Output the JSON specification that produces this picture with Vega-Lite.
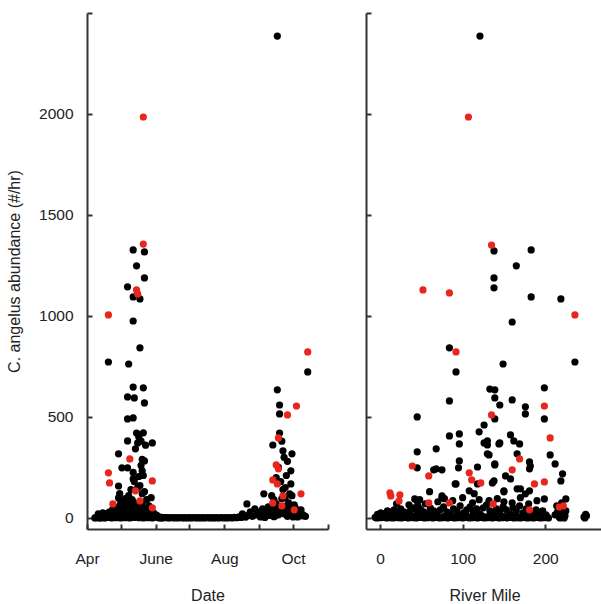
{
"$schema": "https://vega.github.io/schema/vega-lite/v6.json",
"background": "white",
"padding": {"left": 6, "top": 12, "right": 0, "bottom": 0},
"spacing": 36,
"config": {
  "view": {"stroke": null},
  "axis": {"grid": false, "domainColor": "#333", "domainWidth": 2, "tickColor": "#333", "tickWidth": 2, "tickSize": -5,
    "labelFont": "Liberation Sans", "labelFontSize": 15.5, "labelColor": "#222",
    "titleFont": "Liberation Sans", "titleFontSize": 16, "titleFontWeight": "normal", "titleColor": "#222"},
  "circle": {"size": 52, "opacity": 1, "strokeWidth": 0}
},
"datasets": {
"left": [
{"d":"2010/04/08","v":0,"c":"b"},{"d":"2010/04/10","v":2,"c":"b"},{"d":"2010/04/12","v":0,"c":"b"},{"d":"2010/04/14","v":3,"c":"b"},{"d":"2010/04/16","v":1,"c":"b"},{"d":"2010/04/18","v":5,"c":"b"},{"d":"2010/04/20","v":2,"c":"b"},{"d":"2010/04/22","v":8,"c":"b"},{"d":"2010/04/24","v":3,"c":"b"},{"d":"2010/04/26","v":10,"c":"b"},{"d":"2010/04/28","v":4,"c":"b"},{"d":"2010/04/30","v":12,"c":"b"},{"d":"2010/05/02","v":5,"c":"b"},{"d":"2010/05/04","v":15,"c":"b"},{"d":"2010/05/06","v":6,"c":"b"},{"d":"2010/05/08","v":18,"c":"b"},{"d":"2010/05/10","v":8,"c":"b"},{"d":"2010/05/12","v":20,"c":"b"},{"d":"2010/05/14","v":10,"c":"b"},{"d":"2010/05/16","v":22,"c":"b"},{"d":"2010/05/18","v":12,"c":"b"},{"d":"2010/05/20","v":15,"c":"b"},{"d":"2010/05/22","v":6,"c":"b"},{"d":"2010/05/24","v":10,"c":"b"},{"d":"2010/05/26","v":4,"c":"b"},{"d":"2010/05/28","v":8,"c":"b"},{"d":"2010/05/30","v":3,"c":"b"},{"d":"2010/06/01","v":5,"c":"b"},{"d":"2010/06/03","v":2,"c":"b"},{"d":"2010/06/05","v":4,"c":"b"},{"d":"2010/06/07","v":1,"c":"b"},{"d":"2010/06/09","v":2,"c":"b"},
{"d":"2010/04/11","v":20,"c":"b"},{"d":"2010/04/15","v":25,"c":"b"},{"d":"2010/04/19","v":22,"c":"b"},{"d":"2010/04/21","v":30,"c":"b"},{"d":"2010/04/25","v":28,"c":"b"},{"d":"2010/04/27","v":35,"c":"b"},{"d":"2010/04/29","v":25,"c":"b"},{"d":"2010/05/01","v":40,"c":"b"},{"d":"2010/05/03","v":30,"c":"b"},{"d":"2010/05/05","v":45,"c":"b"},{"d":"2010/05/07","v":35,"c":"b"},{"d":"2010/05/09","v":48,"c":"b"},{"d":"2010/05/11","v":40,"c":"b"},{"d":"2010/05/13","v":42,"c":"b"},{"d":"2010/05/15","v":38,"c":"b"},{"d":"2010/05/17","v":45,"c":"b"},{"d":"2010/05/19","v":50,"c":"b"},{"d":"2010/05/21","v":35,"c":"b"},{"d":"2010/05/23","v":30,"c":"b"},{"d":"2010/05/25","v":25,"c":"b"},{"d":"2010/05/27","v":20,"c":"b"},{"d":"2010/05/29","v":18,"c":"b"},{"d":"2010/05/31","v":15,"c":"b"},{"d":"2010/06/02","v":12,"c":"b"},
{"d":"2010/04/09","v":1,"c":"b"},{"d":"2010/04/13","v":0,"c":"b"},{"d":"2010/04/17","v":0,"c":"b"},{"d":"2010/04/23","v":0,"c":"b"},{"d":"2010/04/27","v":1,"c":"b"},{"d":"2010/05/01","v":0,"c":"b"},{"d":"2010/05/05","v":1,"c":"b"},{"d":"2010/05/09","v":0,"c":"b"},{"d":"2010/05/13","v":2,"c":"b"},{"d":"2010/05/17","v":1,"c":"b"},{"d":"2010/05/21","v":0,"c":"b"},{"d":"2010/05/25","v":1,"c":"b"},{"d":"2010/05/29","v":0,"c":"b"},{"d":"2010/06/04","v":0,"c":"b"},{"d":"2010/06/06","v":0,"c":"b"},{"d":"2010/06/08","v":1,"c":"b"},
{"d":"2010/04/24","v":45,"c":"b"},{"d":"2010/04/30","v":60,"c":"b"},{"d":"2010/05/02","v":75,"c":"b"},{"d":"2010/05/04","v":30,"c":"b"},{"d":"2010/05/06","v":85,"c":"b"},{"d":"2010/05/08","v":65,"c":"b"},{"d":"2010/05/10","v":55,"c":"b"},{"d":"2010/05/12","v":80,"c":"b"},{"d":"2010/05/14","v":25,"c":"b"},{"d":"2010/05/16","v":65,"c":"b"},{"d":"2010/05/18","v":30,"c":"b"},{"d":"2010/05/20","v":70,"c":"b"},{"d":"2010/05/22","v":45,"c":"b"},{"d":"2010/05/24","v":30,"c":"b"},{"d":"2010/05/26","v":20,"c":"b"},{"d":"2010/05/30","v":25,"c":"b"},{"d":"2010/06/01","v":15,"c":"b"},
{"d":"2010/06/11","v":1,"c":"b"},{"d":"2010/06/13","v":0,"c":"b"},{"d":"2010/06/15","v":2,"c":"b"},{"d":"2010/06/17","v":0,"c":"b"},{"d":"2010/06/19","v":1,"c":"b"},{"d":"2010/06/21","v":0,"c":"b"},{"d":"2010/06/23","v":2,"c":"b"},{"d":"2010/06/25","v":0,"c":"b"},{"d":"2010/06/27","v":1,"c":"b"},{"d":"2010/06/29","v":0,"c":"b"},{"d":"2010/07/01","v":1,"c":"b"},{"d":"2010/07/03","v":0,"c":"b"},{"d":"2010/07/05","v":2,"c":"b"},{"d":"2010/07/07","v":0,"c":"b"},{"d":"2010/07/09","v":1,"c":"b"},{"d":"2010/07/11","v":0,"c":"b"},{"d":"2010/07/13","v":1,"c":"b"},{"d":"2010/07/15","v":0,"c":"b"},{"d":"2010/07/17","v":2,"c":"b"},{"d":"2010/07/19","v":0,"c":"b"},{"d":"2010/07/21","v":1,"c":"b"},{"d":"2010/07/23","v":0,"c":"b"},{"d":"2010/07/25","v":1,"c":"b"},{"d":"2010/07/27","v":0,"c":"b"},{"d":"2010/07/29","v":2,"c":"b"},{"d":"2010/07/31","v":0,"c":"b"},{"d":"2010/08/02","v":1,"c":"b"},{"d":"2010/08/04","v":0,"c":"b"},{"d":"2010/08/06","v":2,"c":"b"},{"d":"2010/08/08","v":0,"c":"b"},{"d":"2010/08/10","v":3,"c":"b"},{"d":"2010/08/12","v":1,"c":"b"},{"d":"2010/08/14","v":5,"c":"b"},{"d":"2010/08/16","v":2,"c":"b"},{"d":"2010/08/18","v":8,"c":"b"},{"d":"2010/08/20","v":4,"c":"b"},
{"d":"2010/05/12","v":1327,"c":"b"},{"d":"2010/05/22","v":1317,"c":"b"},{"d":"2010/05/15","v":1248,"c":"b"},{"d":"2010/05/22","v":1188,"c":"b"},{"d":"2010/05/07","v":1144,"c":"b"},{"d":"2010/05/12","v":1094,"c":"b"},{"d":"2010/05/18","v":1084,"c":"b"},{"d":"2010/05/12","v":975,"c":"b"},{"d":"2010/05/18","v":842,"c":"b"},{"d":"2010/04/20","v":772,"c":"b"},{"d":"2010/05/08","v":762,"c":"b"},
{"d":"2010/05/12","v":648,"c":"b"},{"d":"2010/05/21","v":644,"c":"b"},{"d":"2010/05/07","v":599,"c":"b"},{"d":"2010/05/13","v":594,"c":"b"},{"d":"2010/05/22","v":569,"c":"b"},{"d":"2010/05/07","v":490,"c":"b"},{"d":"2010/05/12","v":495,"c":"b"},{"d":"2010/05/21","v":421,"c":"b"},{"d":"2010/05/07","v":381,"c":"b"},{"d":"2010/05/16","v":371,"c":"b"},{"d":"2010/05/29","v":371,"c":"b"},{"d":"2010/05/14","v":342,"c":"b"},{"d":"2010/04/29","v":317,"c":"b"},{"d":"2010/05/22","v":282,"c":"b"},{"d":"2010/05/02","v":248,"c":"b"},{"d":"2010/05/07","v":248,"c":"b"},{"d":"2010/05/20","v":233,"c":"b"},{"d":"2010/04/29","v":158,"c":"b"},{"d":"2010/05/12","v":193,"c":"b"},{"d":"2010/04/29","v":99,"c":"b"},{"d":"2010/05/07","v":69,"c":"b"},
{"d":"2010/05/15","v":420,"c":"b"},{"d":"2010/05/17","v":400,"c":"b"},{"d":"2010/05/19","v":380,"c":"b"},{"d":"2010/05/23","v":360,"c":"b"},{"d":"2010/05/20","v":290,"c":"b"},{"d":"2010/05/19","v":260,"c":"b"},{"d":"2010/05/21","v":210,"c":"b"},{"d":"2010/05/17","v":205,"c":"b"},{"d":"2010/05/13","v":180,"c":"b"},{"d":"2010/05/10","v":140,"c":"b"},{"d":"2010/05/16","v":150,"c":"b"},{"d":"2010/05/20","v":120,"c":"b"},{"d":"2010/05/08","v":110,"c":"b"},{"d":"2010/05/05","v":95,"c":"b"},{"d":"2010/05/01","v":80,"c":"b"},{"d":"2010/05/11","v":90,"c":"b"},{"d":"2010/05/14","v":70,"c":"b"},{"d":"2010/05/24","v":90,"c":"b"},{"d":"2010/05/26","v":60,"c":"b"},{"d":"2010/05/27","v":40,"c":"b"},{"d":"2010/04/26","v":50,"c":"b"},{"d":"2010/04/28","v":35,"c":"b"},{"d":"2010/05/03","v":40,"c":"b"},{"d":"2010/05/06","v":55,"c":"b"},{"d":"2010/05/09","v":30,"c":"b"},{"d":"2010/04/23","v":30,"c":"b"},{"d":"2010/05/12","v":225,"c":"b"},{"d":"2010/05/18","v":160,"c":"b"},{"d":"2010/05/22","v":130,"c":"b"},{"d":"2010/05/04","v":60,"c":"b"},{"d":"2010/04/30","v":120,"c":"b"},{"d":"2010/05/28","v":100,"c":"b"},
{"d":"2010/08/21","v":69,"c":"b"},{"d":"2010/08/28","v":45,"c":"b"},{"d":"2010/08/17","v":20,"c":"b"},{"d":"2010/08/24","v":30,"c":"b"},{"d":"2010/08/22","v":12,"c":"b"},{"d":"2010/08/26","v":8,"c":"b"},{"d":"2010/08/30","v":15,"c":"b"},{"d":"2010/09/01","v":20,"c":"b"},{"d":"2010/09/05","v":119,"c":"b"},{"d":"2010/09/03","v":35,"c":"b"},{"d":"2010/09/02","v":5,"c":"b"},{"d":"2010/09/04","v":10,"c":"b"},{"d":"2010/09/06","v":2,"c":"b"},{"d":"2010/09/08","v":25,"c":"b"},{"d":"2010/09/09","v":55,"c":"b"},{"d":"2010/09/10","v":12,"c":"b"},{"d":"2010/09/12","v":40,"c":"b"},{"d":"2010/09/13","v":361,"c":"b"},{"d":"2010/09/14","v":6,"c":"b"},{"d":"2010/09/15","v":30,"c":"b"},{"d":"2010/09/16","v":70,"c":"b"},{"d":"2010/09/17","v":634,"c":"b"},{"d":"2010/09/17","v":2386,"c":"b"},{"d":"2010/09/18","v":15,"c":"b"},{"d":"2010/09/19","v":559,"c":"b"},{"d":"2010/09/19","v":515,"c":"b"},{"d":"2010/09/20","v":45,"c":"b"},{"d":"2010/09/21","v":95,"c":"b"},{"d":"2010/09/22","v":332,"c":"b"},{"d":"2010/09/23","v":20,"c":"b"},{"d":"2010/09/24","v":150,"c":"b"},{"d":"2010/09/25","v":60,"c":"b"},{"d":"2010/09/26","v":8,"c":"b"},{"d":"2010/09/27","v":35,"c":"b"},{"d":"2010/09/28","v":119,"c":"b"},{"d":"2010/09/29","v":233,"c":"b"},{"d":"2010/09/29","v":168,"c":"b"},{"d":"2010/09/30","v":317,"c":"b"},{"d":"2010/10/01","v":25,"c":"b"},{"d":"2010/10/02","v":10,"c":"b"},{"d":"2010/10/03","v":50,"c":"b"},{"d":"2010/10/04","v":20,"c":"b"},{"d":"2010/10/05","v":5,"c":"b"},{"d":"2010/10/06","v":30,"c":"b"},{"d":"2010/10/07","v":12,"c":"b"},{"d":"2010/10/08","v":40,"c":"b"},{"d":"2010/10/10","v":15,"c":"b"},{"d":"2010/10/12","v":8,"c":"b"},{"d":"2010/10/14","v":723,"c":"b"},
{"d":"2010/09/16","v":200,"c":"b"},{"d":"2010/09/18","v":250,"c":"b"},{"d":"2010/09/20","v":180,"c":"b"},{"d":"2010/09/22","v":140,"c":"b"},{"d":"2010/09/24","v":100,"c":"b"},{"d":"2010/09/26","v":280,"c":"b"},{"d":"2010/09/14","v":90,"c":"b"},{"d":"2010/09/12","v":110,"c":"b"},{"d":"2010/09/19","v":420,"c":"b"},{"d":"2010/09/21","v":380,"c":"b"},{"d":"2010/09/27","v":75,"c":"b"},{"d":"2010/09/30","v":110,"c":"b"},{"d":"2010/10/02","v":65,"c":"b"},{"d":"2010/09/25","v":210,"c":"b"},{"d":"2010/09/23","v":300,"c":"b"},
{"d":"2010/09/02","v":30,"c":"b"},{"d":"2010/09/04","v":45,"c":"b"},{"d":"2010/09/07","v":40,"c":"b"},{"d":"2010/09/11","v":25,"c":"b"},{"d":"2010/09/13","v":50,"c":"b"},{"d":"2010/09/15","v":10,"c":"b"},{"d":"2010/09/17","v":40,"c":"b"},{"d":"2010/09/19","v":25,"c":"b"},{"d":"2010/09/21","v":55,"c":"b"},{"d":"2010/09/23","v":40,"c":"b"},{"d":"2010/09/25","v":30,"c":"b"},{"d":"2010/09/27","v":15,"c":"b"},{"d":"2010/09/29","v":45,"c":"b"},{"d":"2010/10/01","v":5,"c":"b"},{"d":"2010/10/03","v":22,"c":"b"},{"d":"2010/10/05","v":35,"c":"b"},{"d":"2010/10/07","v":28,"c":"b"},{"d":"2010/10/09","v":10,"c":"b"},
{"d":"2010/05/21","v":1985,"c":"r"},{"d":"2010/05/21","v":1356,"c":"r"},{"d":"2010/05/15","v":1129,"c":"r"},{"d":"2010/05/16","v":1109,"c":"r"},{"d":"2010/04/20","v":1005,"c":"r"},{"d":"2010/05/09","v":292,"c":"r"},{"d":"2010/04/20","v":223,"c":"r"},{"d":"2010/04/21","v":173,"c":"r"},{"d":"2010/05/29","v":183,"c":"r"},{"d":"2010/05/14","v":134,"c":"r"},{"d":"2010/04/24","v":69,"c":"r"},{"d":"2010/05/18","v":84,"c":"r"},{"d":"2010/05/29","v":50,"c":"r"},
{"d":"2010/10/14","v":822,"c":"r"},{"d":"2010/10/04","v":554,"c":"r"},{"d":"2010/09/26","v":510,"c":"r"},{"d":"2010/09/18","v":396,"c":"r"},{"d":"2010/09/16","v":262,"c":"r"},{"d":"2010/09/18","v":243,"c":"r"},{"d":"2010/09/13","v":188,"c":"r"},{"d":"2010/09/17","v":168,"c":"r"},{"d":"2010/10/08","v":119,"c":"r"},{"d":"2010/09/22","v":109,"c":"r"},{"d":"2010/09/13","v":74,"c":"r"},{"d":"2010/09/21","v":59,"c":"r"},{"d":"2010/10/02","v":40,"c":"r"}
],
"right": [
{"m":-6,"v":3,"c":"b"},{"m":-4,"v":0,"c":"b"},{"m":-2,"v":5,"c":"b"},{"m":0,"v":1,"c":"b"},{"m":2,"v":8,"c":"b"},{"m":4,"v":2,"c":"b"},{"m":6,"v":10,"c":"b"},{"m":8,"v":0,"c":"b"},{"m":10,"v":4,"c":"b"},{"m":12,"v":1,"c":"b"},{"m":14,"v":6,"c":"b"},{"m":16,"v":0,"c":"b"},{"m":18,"v":3,"c":"b"},{"m":20,"v":8,"c":"b"},{"m":22,"v":1,"c":"b"},{"m":24,"v":5,"c":"b"},{"m":26,"v":0,"c":"b"},{"m":28,"v":7,"c":"b"},{"m":30,"v":2,"c":"b"},{"m":32,"v":10,"c":"b"},{"m":34,"v":0,"c":"b"},{"m":36,"v":4,"c":"b"},{"m":38,"v":9,"c":"b"},{"m":40,"v":1,"c":"b"},{"m":42,"v":6,"c":"b"},{"m":44,"v":0,"c":"b"},{"m":46,"v":3,"c":"b"},{"m":48,"v":8,"c":"b"},{"m":50,"v":2,"c":"b"},{"m":52,"v":5,"c":"b"},{"m":54,"v":0,"c":"b"},{"m":56,"v":7,"c":"b"},{"m":58,"v":1,"c":"b"},{"m":60,"v":10,"c":"b"},{"m":62,"v":3,"c":"b"},{"m":64,"v":0,"c":"b"},{"m":66,"v":6,"c":"b"},{"m":68,"v":2,"c":"b"},{"m":70,"v":9,"c":"b"},{"m":72,"v":0,"c":"b"},{"m":74,"v":4,"c":"b"},{"m":76,"v":1,"c":"b"},{"m":78,"v":7,"c":"b"},{"m":80,"v":3,"c":"b"},{"m":82,"v":0,"c":"b"},{"m":84,"v":8,"c":"b"},{"m":86,"v":2,"c":"b"},{"m":88,"v":5,"c":"b"},{"m":90,"v":0,"c":"b"},{"m":92,"v":6,"c":"b"},{"m":94,"v":1,"c":"b"},{"m":96,"v":9,"c":"b"},{"m":98,"v":3,"c":"b"},{"m":100,"v":0,"c":"b"},{"m":102,"v":5,"c":"b"},{"m":104,"v":2,"c":"b"},{"m":106,"v":8,"c":"b"},{"m":108,"v":0,"c":"b"},{"m":110,"v":4,"c":"b"},{"m":112,"v":1,"c":"b"},{"m":114,"v":7,"c":"b"},{"m":116,"v":3,"c":"b"},{"m":118,"v":0,"c":"b"},{"m":120,"v":6,"c":"b"},{"m":122,"v":2,"c":"b"},{"m":124,"v":9,"c":"b"},{"m":126,"v":0,"c":"b"},{"m":128,"v":4,"c":"b"},{"m":130,"v":1,"c":"b"},{"m":132,"v":7,"c":"b"},{"m":134,"v":3,"c":"b"},{"m":136,"v":0,"c":"b"},{"m":138,"v":5,"c":"b"},{"m":140,"v":2,"c":"b"},{"m":142,"v":8,"c":"b"},{"m":144,"v":0,"c":"b"},{"m":146,"v":4,"c":"b"},{"m":148,"v":1,"c":"b"},{"m":150,"v":6,"c":"b"},{"m":152,"v":3,"c":"b"},{"m":154,"v":0,"c":"b"},{"m":156,"v":7,"c":"b"},{"m":158,"v":2,"c":"b"},{"m":160,"v":5,"c":"b"},{"m":162,"v":0,"c":"b"},{"m":164,"v":8,"c":"b"},{"m":166,"v":1,"c":"b"},{"m":168,"v":4,"c":"b"},{"m":170,"v":0,"c":"b"},{"m":172,"v":6,"c":"b"},{"m":174,"v":2,"c":"b"},{"m":176,"v":9,"c":"b"},{"m":178,"v":0,"c":"b"},{"m":180,"v":3,"c":"b"},{"m":182,"v":1,"c":"b"},{"m":184,"v":7,"c":"b"},{"m":186,"v":0,"c":"b"},{"m":188,"v":4,"c":"b"},{"m":190,"v":2,"c":"b"},{"m":192,"v":8,"c":"b"},{"m":194,"v":0,"c":"b"},{"m":196,"v":5,"c":"b"},{"m":198,"v":1,"c":"b"},{"m":200,"v":6,"c":"b"},{"m":202,"v":2,"c":"b"},{"m":204,"v":0,"c":"b"},
{"m":-3,"v":18,"c":"b"},{"m":1,"v":25,"c":"b"},{"m":5,"v":20,"c":"b"},{"m":9,"v":35,"c":"b"},{"m":13,"v":28,"c":"b"},{"m":17,"v":40,"c":"b"},{"m":21,"v":22,"c":"b"},{"m":25,"v":45,"c":"b"},{"m":29,"v":30,"c":"b"},{"m":33,"v":20,"c":"b"},{"m":37,"v":38,"c":"b"},{"m":41,"v":50,"c":"b"},{"m":45,"v":25,"c":"b"},{"m":49,"v":42,"c":"b"},{"m":53,"v":30,"c":"b"},{"m":57,"v":20,"c":"b"},{"m":61,"v":48,"c":"b"},{"m":65,"v":35,"c":"b"},{"m":69,"v":25,"c":"b"},{"m":73,"v":40,"c":"b"},{"m":77,"v":55,"c":"b"},{"m":81,"v":30,"c":"b"},{"m":85,"v":20,"c":"b"},{"m":89,"v":45,"c":"b"},{"m":93,"v":35,"c":"b"},{"m":97,"v":60,"c":"b"},{"m":101,"v":25,"c":"b"},{"m":105,"v":40,"c":"b"},{"m":109,"v":55,"c":"b"},{"m":113,"v":30,"c":"b"},{"m":117,"v":45,"c":"b"},{"m":121,"v":20,"c":"b"},{"m":125,"v":50,"c":"b"},{"m":129,"v":65,"c":"b"},{"m":133,"v":35,"c":"b"},{"m":137,"v":25,"c":"b"},{"m":141,"v":45,"c":"b"},{"m":145,"v":30,"c":"b"},{"m":149,"v":55,"c":"b"},{"m":153,"v":40,"c":"b"},{"m":157,"v":20,"c":"b"},{"m":161,"v":50,"c":"b"},{"m":165,"v":35,"c":"b"},{"m":169,"v":60,"c":"b"},{"m":173,"v":25,"c":"b"},{"m":177,"v":45,"c":"b"},{"m":181,"v":30,"c":"b"},{"m":185,"v":20,"c":"b"},{"m":189,"v":40,"c":"b"},{"m":193,"v":25,"c":"b"},{"m":197,"v":35,"c":"b"},{"m":201,"v":15,"c":"b"},
{"m":20,"v":70,"c":"b"},{"m":35,"v":65,"c":"b"},{"m":48,"v":90,"c":"b"},{"m":55,"v":70,"c":"b"},{"m":70,"v":80,"c":"b"},{"m":78,"v":95,"c":"b"},{"m":88,"v":85,"c":"b"},{"m":100,"v":100,"c":"b"},{"m":112,"v":75,"c":"b"},{"m":120,"v":90,"c":"b"},{"m":132,"v":85,"c":"b"},{"m":142,"v":95,"c":"b"},{"m":150,"v":80,"c":"b"},{"m":160,"v":75,"c":"b"},{"m":170,"v":100,"c":"b"},{"m":180,"v":70,"c":"b"},{"m":190,"v":85,"c":"b"},{"m":46,"v":60,"c":"b"},
{"m":212,"v":15,"c":"b"},{"m":215,"v":30,"c":"b"},{"m":217,"v":5,"c":"b"},{"m":219,"v":45,"c":"b"},{"m":221,"v":20,"c":"b"},{"m":223,"v":0,"c":"b"},{"m":225,"v":35,"c":"b"},{"m":214,"v":60,"c":"b"},{"m":220,"v":75,"c":"b"},{"m":218,"v":0,"c":"b"},{"m":224,"v":10,"c":"b"},{"m":247,"v":5,"c":"b"},{"m":249,"v":18,"c":"b"},{"m":248,"v":0,"c":"b"},{"m":250,"v":10,"c":"b"},
{"m":121,"v":2386,"c":"b"},{"m":138,"v":1322,"c":"b"},{"m":183,"v":1327,"c":"b"},{"m":165,"v":1248,"c":"b"},{"m":138,"v":1188,"c":"b"},{"m":138,"v":1139,"c":"b"},{"m":183,"v":1094,"c":"b"},{"m":219,"v":1084,"c":"b"},{"m":160,"v":970,"c":"b"},{"m":84,"v":842,"c":"b"},{"m":92,"v":723,"c":"b"},{"m":236,"v":772,"c":"b"},{"m":149,"v":762,"c":"b"},{"m":133,"v":638,"c":"b"},{"m":139,"v":634,"c":"b"},{"m":199,"v":644,"c":"b"},{"m":84,"v":579,"c":"b"},{"m":160,"v":584,"c":"b"},{"m":139,"v":594,"c":"b"},{"m":145,"v":559,"c":"b"},{"m":176,"v":550,"c":"b"},{"m":176,"v":515,"c":"b"},{"m":45,"v":500,"c":"b"},{"m":199,"v":490,"c":"b"},{"m":139,"v":490,"c":"b"},{"m":126,"v":460,"c":"b"},{"m":120,"v":426,"c":"b"},{"m":84,"v":406,"c":"b"},{"m":96,"v":416,"c":"b"},{"m":96,"v":366,"c":"b"},{"m":158,"v":411,"c":"b"},{"m":145,"v":371,"c":"b"},{"m":126,"v":371,"c":"b"},{"m":130,"v":361,"c":"b"},{"m":162,"v":381,"c":"b"},{"m":169,"v":366,"c":"b"},{"m":45,"v":327,"c":"b"},{"m":68,"v":342,"c":"b"},{"m":132,"v":312,"c":"b"},{"m":166,"v":317,"c":"b"},{"m":96,"v":282,"c":"b"},{"m":181,"v":277,"c":"b"},{"m":206,"v":312,"c":"b"},{"m":212,"v":267,"c":"b"},{"m":45,"v":248,"c":"b"},{"m":65,"v":238,"c":"b"},{"m":75,"v":238,"c":"b"},{"m":95,"v":248,"c":"b"},{"m":118,"v":252,"c":"b"},{"m":139,"v":262,"c":"b"},{"m":152,"v":208,"c":"b"},{"m":181,"v":243,"c":"b"},{"m":221,"v":218,"c":"b"},{"m":219,"v":183,"c":"b"},{"m":92,"v":168,"c":"b"},{"m":118,"v":168,"c":"b"},{"m":136,"v":173,"c":"b"},{"m":150,"v":129,"c":"b"},{"m":166,"v":144,"c":"b"},{"m":176,"v":119,"c":"b"},{"m":45,"v":84,"c":"b"},{"m":75,"v":109,"c":"b"},{"m":225,"v":94,"c":"b"},{"m":199,"v":94,"c":"b"},{"m":130,"v":381,"c":"b"},{"m":144,"v":366,"c":"b"},{"m":182,"v":257,"c":"b"},{"m":130,"v":317,"c":"b"},{"m":139,"v":267,"c":"b"},{"m":158,"v":193,"c":"b"},{"m":138,"v":183,"c":"b"},{"m":170,"v":144,"c":"b"},{"m":181,"v":134,"c":"b"},{"m":150,"v":134,"c":"b"},{"m":108,"v":134,"c":"b"},{"m":91,"v":168,"c":"b"},{"m":42,"v":94,"c":"b"},{"m":75,"v":99,"c":"b"},{"m":68,"v":243,"c":"b"},{"m":114,"v":120,"c":"b"},{"m":60,"v":130,"c":"b"},
{"m":107,"v":1985,"c":"r"},{"m":135,"v":1351,"c":"r"},{"m":52,"v":1129,"c":"r"},{"m":84,"v":1114,"c":"r"},{"m":236,"v":1005,"c":"r"},{"m":92,"v":822,"c":"r"},{"m":199,"v":554,"c":"r"},{"m":135,"v":510,"c":"r"},{"m":206,"v":396,"c":"r"},{"m":169,"v":292,"c":"r"},{"m":39,"v":257,"c":"r"},{"m":59,"v":208,"c":"r"},{"m":108,"v":223,"c":"r"},{"m":111,"v":188,"c":"r"},{"m":122,"v":173,"c":"r"},{"m":160,"v":238,"c":"r"},{"m":187,"v":168,"c":"r"},{"m":199,"v":178,"c":"r"},{"m":12,"v":124,"c":"r"},{"m":24,"v":114,"c":"r"},{"m":13,"v":109,"c":"r"},{"m":23,"v":84,"c":"r"},{"m":59,"v":74,"c":"r"},{"m":84,"v":74,"c":"r"},{"m":137,"v":69,"c":"r"},{"m":181,"v":40,"c":"r"},{"m":217,"v":54,"c":"r"},{"m":222,"v":59,"c":"r"}
]
},
"hconcat": [
{
  "width": 241, "height": 516,
  "data": {"name": "left", "format": {"parse": {"d": "date"}}},
  "mark": {"type": "circle"},
  "encoding": {
    "x": {"field": "d", "type": "temporal",
      "scale": {"domain": [{"year": 2010, "month": 4, "date": 1}, {"year": 2010, "month": 11, "date": 1}], "nice": false},
      "axis": {"title": "Date", "values": [{"year": 2010, "month": 4, "date": 1}, {"year": 2010, "month": 5, "date": 1}, {"year": 2010, "month": 6, "date": 1}, {"year": 2010, "month": 7, "date": 1}, {"year": 2010, "month": 8, "date": 1}, {"year": 2010, "month": 9, "date": 1}, {"year": 2010, "month": 10, "date": 1}, {"year": 2010, "month": 11, "date": 1}],
        "labelExpr": "month(datum.value)==3 ? 'Apr' : month(datum.value)==5 ? 'June' : month(datum.value)==7 ? 'Aug' : month(datum.value)==9 ? 'Oct' : ''",
        "labelPadding": 27, "titlePadding": 21, "labelFlush": false, "labelOverlap": false}},
    "y": {"field": "v", "type": "quantitative",
      "scale": {"domain": [-55, 2500], "nice": false, "zero": false},
      "axis": {"title": "C. angelus abundance (#/hr)", "values": [0, 500, 1000, 1500, 2000, 2500],
        "labelExpr": "datum.value == 2500 ? '' : format(datum.value, 'd')", "labelPadding": 19, "titlePadding": 16, "labelFlush": false}},
    "color": {"field": "c", "type": "nominal", "scale": {"domain": ["b", "r"], "range": ["#000000", "#e8261e"]}, "legend": null}
  }
},
{
  "width": 237, "height": 516,
  "data": {"name": "right"},
  "mark": {"type": "circle"},
  "encoding": {
    "x": {"field": "m", "type": "quantitative",
      "scale": {"domain": [-17, 270], "nice": false, "zero": false},
      "axis": {"title": "River Mile", "values": [0, 100, 200], "labelPadding": 27, "titlePadding": 21, "labelFlush": false}},
    "y": {"field": "v", "type": "quantitative",
      "scale": {"domain": [-55, 2500], "nice": false, "zero": false},
      "axis": {"title": null, "labels": false, "values": [0, 500, 1000, 1500, 2000, 2500]}},
    "color": {"field": "c", "type": "nominal", "scale": {"domain": ["b", "r"], "range": ["#000000", "#e8261e"]}, "legend": null}
  }
}
]
}
